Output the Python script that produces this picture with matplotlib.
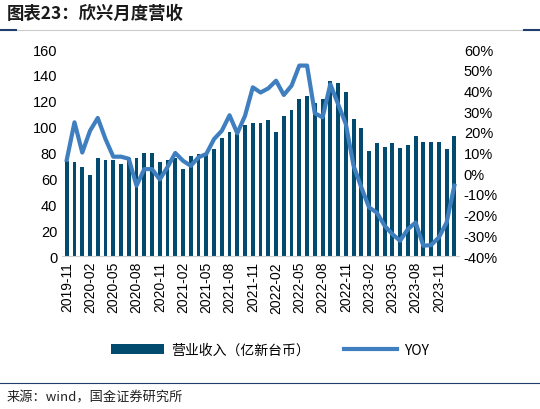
import matplotlib
matplotlib.use("Agg")
import matplotlib.pyplot as plt
import numpy as np
import pandas as pd
from matplotlib.ticker import FuncFormatter

plt.rcParams['font.family'] = ['Noto Sans CJK SC', 'DejaVu Sans']

months = pd.period_range('2019-11', '2024-01', freq='M').strftime('%Y-%m').tolist()
revenue = [73.7, 73, 68.5, 62.6, 75.5, 74, 74, 71, 76, 75.5, 80, 80, 73, 74, 75.5, 67, 77.5, 79, 80,
           82.5, 91.5, 96, 94, 101, 103, 103, 105, 96, 108, 112.6, 121.6, 124, 118, 121.6, 135.6, 134,
           127, 106, 98.7, 81, 87, 84.5, 87, 83.5, 86, 92.8, 88, 88, 88, 82.5, 92.8]
yoy = [6.5, 24.6, 10, 20.5, 26.7, 16.5, 8, 8, 7, -6, 2, 2, -3, 3, 9.8, 6, 3.6, 7.7, 9.3, 16.5, 20.5,
       28, 19.3, 27.8, 41.5, 39, 41, 44.7, 37.8, 42.3, 52, 52, 29, 27, 43, 33.4, 23.8, 3.6, -6.8,
       -16.5, -19, -25.3, -29.4, -32.6, -27, -23.8, -35, -34.7, -31, -23.8, -6]

fig = plt.figure(figsize=(5.4, 4.1), dpi=100)
ax = fig.add_axes([0.115, 0.373, 0.735, 0.505])
x = np.arange(len(months))
bar = ax.bar(x, revenue, width=0.5, color='#024a6e', label='营业收入（亿新台币）')
ax.set_ylim(0, 160)
ax.set_yticks(range(0, 161, 20))
ax.set_xlim(-0.6, len(months) - 0.4)
ax.set_xticks(x[::3])
ax.set_xticklabels(months[::3], rotation=90, fontsize=10, family=['Liberation Sans', 'DejaVu Sans'])
ax.tick_params(axis='y', labelsize=10.5, length=0)
ax.tick_params(axis='x', length=0)
for s in ['top', 'right', 'left']:
    ax.spines[s].set_visible(False)
ax.spines['bottom'].set_color('#d0d0d0')

ax2 = ax.twinx()
line, = ax2.plot(x, yoy, color='#3f7fbf', lw=3, label='YOY')
ax2.set_ylim(-40, 60)
ax2.set_yticks(range(-40, 61, 10))
ax2.yaxis.set_major_formatter(FuncFormatter(lambda v, p: f'{int(v)}%'))
ax2.tick_params(axis='y', labelsize=10.5, length=0)
for s in ['top', 'right', 'left', 'bottom']:
    ax2.spines[s].set_visible(False)
for lab in ax.get_yticklabels() + ax2.get_yticklabels():
    lab.set_family(['Liberation Sans', 'DejaVu Sans'])

fig.legend([bar, line], ['营业收入（亿新台币）', 'YOY'], loc='center', bbox_to_anchor=(0.5, 0.145),
           ncol=2, frameon=False, fontsize=10, handlelength=3.8, handletextpad=0.5, columnspacing=2.5)

fig.text(0.012, 0.955, '图表23：欣兴月度营收', fontsize=12.5, fontweight='bold', style='italic', color='#1a1a1a')
fig.add_artist(plt.Line2D([0.0, 1.0], [0.925, 0.925], color='#cccccc', lw=0.8))
fig.add_artist(plt.Line2D([0.0, 0.03], [0.925, 0.925], color='#1f3e6e', lw=1.5))
fig.add_artist(plt.Line2D([0.97, 1.0], [0.925, 0.925], color='#1f3e6e', lw=1.5))
fig.add_artist(plt.Line2D([0.0, 1.0], [0.063, 0.063], color='#1f3e6e', lw=0.8))
fig.text(0.012, 0.02, '来源：wind，国金证券研究所', fontsize=9.5, color='#222222')

fig.savefig('out.png', dpi=100)
